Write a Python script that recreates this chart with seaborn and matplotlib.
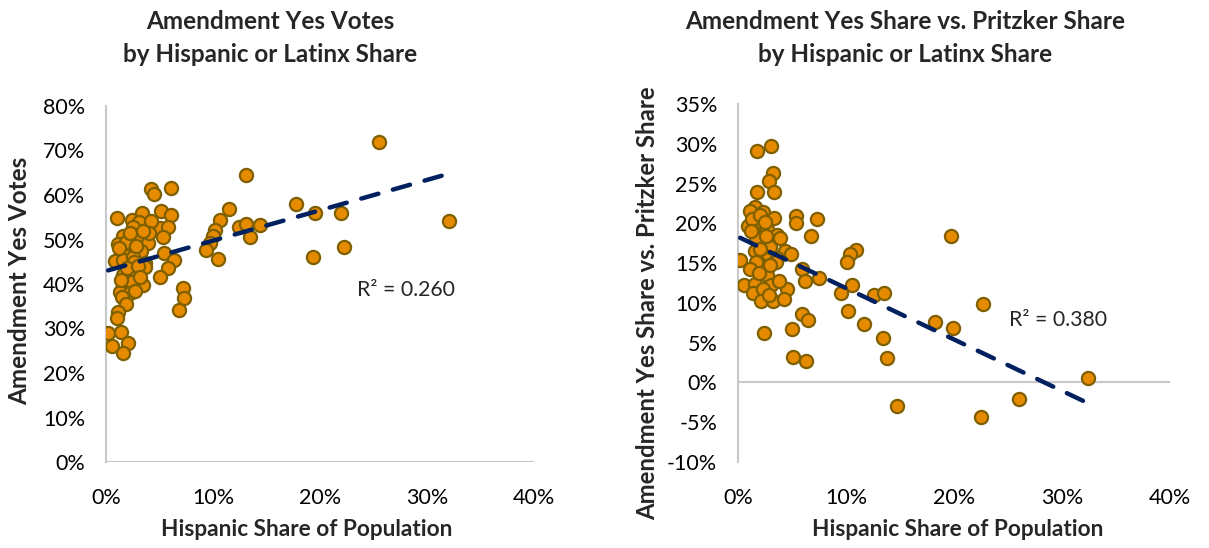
import matplotlib
matplotlib.use("Agg")
import matplotlib.pyplot as plt
import seaborn as sns
import pandas as pd
from matplotlib.ticker import PercentFormatter, MultipleLocator

# Hispanic share (%) and amendment yes vote share (%) by county
hisp_a = [25.5, 13.1, 17.8, 19.5, 22.0, 32.1, 19.3, 22.2, 11.5, 10.7, 10.2, 10.0, 9.7, 9.3,
          10.5, 12.4, 13.1, 13.5, 14.4, 6.1, 5.1, 6.1, 5.0, 5.8, 5.3, 5.4, 6.4, 5.8, 5.0,
          7.2, 7.3, 6.8, 4.2, 4.5, 1.0, 3.4, 2.4, 3.1, 4.2, 2.5, 1.6, 3.0, 1.15, 1.9, 3.1,
          3.9, 2.6, 3.3, 1.9, 0.8, 1.6, 2.5, 3.6, 2.6, 3.6, 1.6, 2.9, 1.6, 2.4, 3.5, 1.3,
          2.2, 1.5, 1.9, 1.1, 1.0, 0.2, 1.4, 2.1, 0.6, 1.6, 2.0, 3.0, 1.2, 2.8, 4.0, 3.5,
          2.2, 1.4, 3.2, 2.7]
yes_votes = [71.8, 64.4, 57.9, 56.0, 56.0, 54.2, 46.0, 48.3, 56.9, 54.3, 52.1, 50.8, 49.3, 47.6,
             45.6, 52.7, 53.4, 50.6, 53.3, 61.6, 56.3, 55.4, 52.6, 52.7, 50.5, 47.0, 45.5, 43.7,
             41.5, 39.0, 36.9, 34.1, 61.3, 60.2, 54.8, 55.9, 54.3, 53.9, 54.1, 52.7, 50.7, 51.0,
             49.1, 49.5, 49.7, 49.2, 47.0, 47.4, 46.3, 45.2, 45.5, 46.0, 44.7, 45.0, 43.9, 42.0,
             42.8, 39.7, 40.5, 39.7, 38.3, 37.9, 37.0, 35.6, 33.8, 32.3, 28.9, 29.3, 26.8, 26.1,
             24.6, 43.5, 44.0, 48.0, 48.5, 51.5, 52.0, 51.5, 40.8, 41.5, 38.5]

# Hispanic share (%) and yes share minus Pritzker share (%) by county
hisp_b = [19.7, 10.9, 10.4, 10.1, 10.6, 9.5, 12.6, 13.5, 10.2, 11.7, 22.7, 18.2, 19.9, 13.4,
          13.8, 32.4, 14.7, 26.0, 22.5, 1.8, 3.1, 3.2, 2.9, 1.8, 3.3, 1.6, 1.1, 2.3, 3.3, 5.4,
          5.4, 7.3, 0.95, 1.9, 2.7, 1.4, 3.6, 3.9, 6.8, 2.2, 1.6, 4.35, 4.9, 2.8, 3.6, 0.2,
          1.7, 3.5, 1.1, 5.9, 2.7, 6.2, 7.5, 0.55, 1.6, 3.1, 4.5, 1.4, 2.3, 2.1, 3.2, 4.3,
          5.9, 6.5, 2.4, 5.0, 5.1, 6.3, 1.3, 2.0, 2.5, 1.7, 3.0, 2.0, 1.2, 2.6, 3.0, 1.9,
          3.8, 2.9]
yes_vs_pritzker = [18.4, 16.6, 16.2, 15.2, 12.2, 11.3, 11.0, 11.2, 9.0, 7.4, 9.8, 7.6, 6.9, 5.6,
                   3.1, 0.5, -2.9, -2.1, -4.4, 29.1, 29.7, 26.3, 25.3, 24.0, 23.9, 22.1, 21.6,
                   21.4, 20.7, 20.9, 20.0, 20.6, 19.7, 19.7, 19.3, 18.9, 18.5, 18.2, 18.4, 17.6,
                   16.5, 16.5, 16.2, 16.1, 15.7, 15.4, 15.1, 15.2, 14.2, 14.2, 13.5, 12.8, 13.1,
                   12.3, 12.4, 12.2, 11.8, 11.2, 11.7, 10.2, 10.2, 10.5, 8.6, 7.8, 6.2, 6.7, 3.2,
                   2.7, 20.5, 21.0, 20.2, 18.0, 17.0, 16.8, 19.0, 18.4, 14.8, 13.8, 12.8, 11.0]

r2_labels = ["R² = 0.260", "R² = 0.380"]
titles = ["Amendment Yes Votes\nby Hispanic or Latinx Share",
          "Amendment Yes Share vs. Pritzker Share\nby Hispanic or Latinx Share"]
ylabels = ["Amendment Yes Votes", "Amendment Yes Share vs. Pritzker Share"]
xlabel = "Hispanic Share of Population"

df_a = pd.DataFrame({"hisp": hisp_a, "val": yes_votes})
df_b = pd.DataFrame({"hisp": hisp_b, "val": yes_vs_pritzker})

sns.set_theme(style="white")
FONT = ["Lato", "DejaVu Sans"]
plt.rcParams["font.family"] = FONT
plt.rcParams["axes.unicode_minus"] = False

W, H = 1209, 548
fig = plt.figure(figsize=(W / 100, H / 100), dpi=100)

def px_axes(x0, x1, ytop, ybot):
    return fig.add_axes([x0 / W, 1 - ybot / H, (x1 - x0) / W, (ybot - ytop) / H])

ax1 = px_axes(106, 534, 106, 462)
ax2 = px_axes(738, 1170, 104, 462)

FILL = "#E68A00"
EDGE = "#7F6000"
NAVY = "#002060"
GRID = "#C8C8C8"

for ax, df in [(ax1, df_a), (ax2, df_b)]:
    sns.scatterplot(data=df, x="hisp", y="val", ax=ax, s=90, color=FILL,
                    edgecolor=EDGE, linewidth=1.6, zorder=3)
    sns.regplot(data=df, x="hisp", y="val", ax=ax, scatter=False, ci=None,
                line_kws=dict(color=NAVY, lw=3.2, linestyle=(0, (4.0, 3.4)),
                              dash_capstyle="round", zorder=4))
    ax.set_xlim(0, 40)
    ax.xaxis.set_major_locator(MultipleLocator(10))
    ax.xaxis.set_major_formatter(PercentFormatter(100, decimals=0))
    ax.yaxis.set_major_formatter(PercentFormatter(100, decimals=0))
    ax.set_xlabel("")
    ax.set_ylabel("")
    for s in ["top", "right", "bottom"]:
        ax.spines[s].set_visible(False)
    ax.spines["left"].set_color(GRID)
    ax.spines["left"].set_linewidth(1.5)
    ax.axhline(0, color=GRID, lw=1.5, zorder=1)
    ax.tick_params(axis="both", length=0, labelsize=15.5, colors="#000000")
    ax.tick_params(axis="y", pad=15)
    ax.tick_params(axis="x", pad=19)

ax1.set_ylim(0, 80)
ax1.yaxis.set_major_locator(MultipleLocator(10))
ax2.set_ylim(-10, 35)
ax2.yaxis.set_major_locator(MultipleLocator(5))
ax2.set_xlim(0, 40)

# titles
fig.text(270 / W, 1 - 38 / H, titles[0], ha="center", va="center", fontsize=17.5,
         fontweight="bold", linespacing=1.55)
fig.text(905 / W, 1 - 38 / H, titles[1], ha="center", va="center", fontsize=17.5,
         fontweight="bold", linespacing=1.55)

# axis labels
fig.text(307 / W, 1 - 530 / H, xlabel, ha="center", va="center", fontsize=16.3, fontweight="bold")
fig.text(958 / W, 1 - 530 / H, xlabel, ha="center", va="center", fontsize=16.3, fontweight="bold")
fig.text(20 / W, 1 - 281 / H, ylabels[0], ha="center", va="center", rotation=90,
         fontsize=17.5, fontweight="bold")
fig.text(648 / W, 1 - 303 / H, ylabels[1], ha="center", va="center", rotation=90,
         fontsize=17.2, fontweight="bold")

# R-squared annotations
fig.text(406 / W, 1 - 290 / H, r2_labels[0], ha="center", va="center", fontsize=15.3)
fig.text(1058 / W, 1 - 320 / H, r2_labels[1], ha="center", va="center", fontsize=15.3)

fig.savefig("out.png", dpi=100)
